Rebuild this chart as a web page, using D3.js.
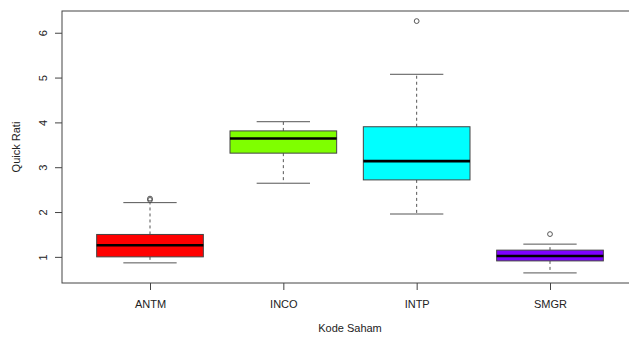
<!DOCTYPE html>
<html>
<head>
<meta charset="utf-8">
<script src="https://cdn.jsdelivr.net/npm/d3@7"></script>
<style>
  html, body { margin: 0; padding: 0; background: #fff; }
  svg { display: block; }
  text { font-family: "Liberation Sans", Arial, sans-serif; fill: #222; }
</style>
</head>
<body>
<svg id="chart" width="629" height="338"></svg>
<script>
// Five-number summaries per stock code (quick ratio)
const categories = ["ANTM", "INCO", "INTP", "SMGR"];
const lowerWhisker = [0.866, 2.643, 1.956, 0.642];
const q1 = [1.00, 3.314, 2.717, 0.91];
const median = [1.26, 3.641, 3.135, 1.02];
const q3 = [1.50, 3.81, 3.903, 1.15];
const upperWhisker = [2.21, 4.015, 5.073, 1.284];
const outliers = [[2.27, 2.30], [], [6.26], [1.508]];
const fills = ["#ff0000", "#7fff00", "#00ffff", "#7f00ff"];
const yTicks = [1, 2, 3, 4, 5, 6];

const svg = d3.select("#chart");
const plotLeft = 62, plotRight = 638, plotTop = 11, plotBottom = 283;

const x = d3.scaleLinear().domain([0.34, 4.66]).range([plotLeft, plotRight]);
const y = d3.scaleLinear().domain([0.417, 6.485]).range([plotBottom, plotTop]);

const boxHalf = 0.4, stapleHalf = 0.2;
const lineCol = "#444";

const rows = categories.map((c, i) => ({
  c, i: i + 1, lo: lowerWhisker[i], q1: q1[i], med: median[i], q3: q3[i],
  hi: upperWhisker[i], out: outliers[i], fill: fills[i]
}));

const g = svg.append("g");
const box = g.selectAll("g.box").data(rows).enter().append("g").attr("class", "box");

// dashed whiskers
box.append("line")
  .attr("x1", d => x(d.i)).attr("x2", d => x(d.i))
  .attr("y1", d => y(d.q3)).attr("y2", d => y(d.hi))
  .attr("stroke", "#555").attr("stroke-dasharray", "3,3");
box.append("line")
  .attr("x1", d => x(d.i)).attr("x2", d => x(d.i))
  .attr("y1", d => y(d.q1)).attr("y2", d => y(d.lo))
  .attr("stroke", "#555").attr("stroke-dasharray", "3,3");
// staples
["hi", "lo"].forEach(k => {
  box.append("line")
    .attr("x1", d => x(d.i - stapleHalf)).attr("x2", d => x(d.i + stapleHalf))
    .attr("y1", d => y(d[k])).attr("y2", d => y(d[k]))
    .attr("stroke", "#555");
});
// box body
box.append("rect")
  .attr("x", d => x(d.i - boxHalf))
  .attr("width", d => x(d.i + boxHalf) - x(d.i - boxHalf))
  .attr("y", d => y(d.q3))
  .attr("height", d => y(d.q1) - y(d.q3))
  .attr("fill", d => d.fill)
  .attr("stroke", lineCol).attr("stroke-width", 1);
// median
box.append("line")
  .attr("x1", d => x(d.i - boxHalf)).attr("x2", d => x(d.i + boxHalf))
  .attr("y1", d => y(d.med)).attr("y2", d => y(d.med))
  .attr("stroke", "#000").attr("stroke-width", 2.6);
// outliers
box.selectAll("circle").data(d => d.out.map(v => ({ i: d.i, v }))).enter()
  .append("circle")
  .attr("cx", d => x(d.i)).attr("cy", d => y(d.v)).attr("r", 2.4)
  .attr("fill", "none").attr("stroke", lineCol).attr("stroke-width", 0.9);

// plot frame
svg.append("rect")
  .attr("x", plotLeft).attr("y", plotTop)
  .attr("width", plotRight - plotLeft).attr("height", plotBottom - plotTop)
  .attr("fill", "none").attr("stroke", lineCol).attr("stroke-width", 1);

// y axis
const yAxis = svg.append("g").attr("transform", `translate(${plotLeft},0)`)
  .call(d3.axisLeft(y).tickValues(yTicks).tickSize(7).tickFormat(d3.format("d")));
yAxis.select(".domain").remove();
yAxis.selectAll(".tick line").attr("stroke", lineCol);
yAxis.selectAll(".tick text")
  .attr("x", 0).attr("dx", 0).attr("dy", 0)
  .attr("transform", "translate(-19,0) rotate(-90)")
  .attr("text-anchor", "middle").attr("dominant-baseline", "central")
  .style("font-size", "11px").style("fill", "#222");

// x axis
const xAxis = svg.append("g").attr("transform", `translate(0,${plotBottom})`)
  .call(d3.axisBottom(x).tickValues([1, 2, 3, 4]).tickSize(7)
    .tickFormat(d => categories[d - 1]));
xAxis.select(".domain").remove();
xAxis.selectAll(".tick line").attr("stroke", lineCol);
xAxis.selectAll(".tick text").attr("y", 21).attr("dy", "0.35em")
  .style("font-size", "11px").style("fill", "#222");

// axis titles
svg.append("text")
  .attr("x", (plotLeft + plotRight) / 2).attr("y", 332)
  .attr("text-anchor", "middle").style("font-size", "11px")
  .text("Kode Saham");
svg.append("text")
  .attr("transform", `translate(20,${(plotTop + plotBottom) / 2}) rotate(-90)`)
  .attr("text-anchor", "middle").style("font-size", "11px")
  .text("Quick Rati");
</script>
</body>
</html>
